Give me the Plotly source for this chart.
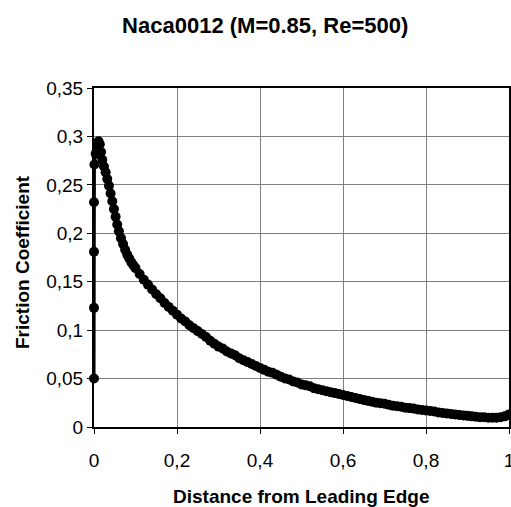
import plotly.graph_objects as go

# Distance from leading edge (x/c) and friction coefficient
distance = [
    0.0, 0.0, 0.0, 0.0, 0.001, 0.004, 0.008, 0.011, 0.014, 0.017, 0.020, 0.024,
    0.028, 0.032, 0.036, 0.040, 0.044, 0.048, 0.052, 0.056, 0.060, 0.065, 0.070,
    0.075, 0.080, 0.085, 0.090, 0.095,
    0.10, 0.11, 0.12, 0.13, 0.14, 0.15, 0.16, 0.17, 0.18, 0.19,
    0.20, 0.21, 0.22, 0.23, 0.24, 0.25, 0.26, 0.27, 0.28, 0.29,
    0.30, 0.31, 0.32, 0.33, 0.34, 0.35, 0.36, 0.37, 0.38, 0.39,
    0.40, 0.41, 0.42, 0.43, 0.44, 0.45, 0.46, 0.47, 0.48, 0.49,
    0.50, 0.51, 0.52, 0.53, 0.54, 0.55, 0.56, 0.57, 0.58, 0.59,
    0.60, 0.61, 0.62, 0.63, 0.64, 0.65, 0.66, 0.67, 0.68, 0.69,
    0.70, 0.71, 0.72, 0.73, 0.74, 0.75, 0.76, 0.77, 0.78, 0.79,
    0.80, 0.81, 0.82, 0.83, 0.84, 0.85, 0.86, 0.87, 0.88, 0.89,
    0.90, 0.91, 0.92, 0.93, 0.94, 0.95, 0.96, 0.97, 0.98, 0.99, 1.00,
]
friction = [
    0.050, 0.123, 0.181, 0.232, 0.271, 0.282, 0.291, 0.295, 0.292, 0.284, 0.276, 0.269,
    0.263, 0.256, 0.249, 0.241, 0.233, 0.225, 0.217, 0.209, 0.202, 0.195, 0.189,
    0.183, 0.178, 0.174, 0.170, 0.167,
    0.164, 0.158, 0.152, 0.147, 0.142, 0.137, 0.133, 0.128, 0.124, 0.120,
    0.116, 0.112, 0.109, 0.105, 0.102, 0.099, 0.096, 0.093, 0.089, 0.086,
    0.083, 0.081, 0.078, 0.076, 0.074, 0.071, 0.069, 0.067, 0.065, 0.063,
    0.061, 0.059, 0.057, 0.056, 0.054, 0.052, 0.050, 0.049, 0.047, 0.046,
    0.044, 0.043, 0.042, 0.040, 0.039, 0.038, 0.037, 0.036, 0.035, 0.034,
    0.033, 0.032, 0.031, 0.030, 0.029, 0.028, 0.027, 0.026, 0.025, 0.0245,
    0.024, 0.023, 0.022, 0.0215, 0.021, 0.020, 0.0195, 0.019, 0.018, 0.0175,
    0.017, 0.0165, 0.016, 0.015, 0.0145, 0.014, 0.0135, 0.013, 0.0125, 0.012,
    0.0115, 0.011, 0.0105, 0.010, 0.010, 0.0095, 0.0095, 0.0095, 0.010, 0.011, 0.013,
]

x_ticks = [0, 0.2, 0.4, 0.6, 0.8, 1]
y_ticks = [0, 0.05, 0.1, 0.15, 0.2, 0.25, 0.3, 0.35]

title_text = "Naca0012 (M=0.85, Re=500)"
x_title = "Distance from Leading Edge"
y_title = "Friction Coefficient"

FONT = "Liberation Sans, Arial, sans-serif"
W, H = 511, 507
ML, MR, MT, MB = 94, 2, 88, 80
PW, PH = W - ML - MR, H - MT - MB

fig = go.Figure()
fig.add_trace(go.Scatter(
    x=distance, y=friction, mode="lines+markers",
    line=dict(color="black", width=3),
    marker=dict(color="black", size=10),
    showlegend=False, cliponaxis=False,
))

fig.update_layout(
    width=W, height=H,
    margin=dict(l=ML, r=MR, t=MT, b=MB),
    paper_bgcolor="white", plot_bgcolor="white",
    separators=", ",
    font=dict(family=FONT, color="black", size=19),
    title=dict(
        text="<b>" + title_text + "</b>",
        font=dict(family=FONT, size=22, color="black"),
        x=0.519, xref="container", xanchor="center",
        y=0.95, yref="container", yanchor="middle",
    ),
    annotations=[
        dict(text="<b>" + x_title + "</b>", xref="paper", yref="paper",
             x=0.5, y=(427 - 496) / PH, xanchor="center", yanchor="middle",
             showarrow=False, font=dict(family=FONT, size=19, color="black")),
        dict(text="<b>" + y_title + "</b>", xref="paper", yref="paper",
             x=(22 - ML) / PW, y=(427 - 262) / PH, xanchor="center", yanchor="middle",
             textangle=-90, showarrow=False,
             font=dict(family=FONT, size=19, color="black")),
    ],
)
fig.update_xaxes(
    range=[0, 1], tickvals=x_ticks,
    showgrid=True, gridcolor="#808080", gridwidth=1,
    showline=True, linecolor="black", linewidth=2, mirror=True,
    ticks="outside", ticklen=5, tickcolor="black",
    ticklabelstandoff=10, ticklabeloverflow="allow",
    zeroline=False, automargin=False,
)
fig.update_yaxes(
    range=[0, 0.35], tickvals=y_ticks,
    showgrid=True, gridcolor="#808080", gridwidth=1,
    showline=True, linecolor="black", linewidth=2, mirror=True,
    ticks="outside", ticklen=5, tickcolor="black",
    zeroline=False, automargin=False,
)

# remove the browser's default 8px body margin so the figure sits at the page origin
fig.write_html("out.html", config={"displayModeBar": False},
               post_script="document.body.style.margin='0';")
